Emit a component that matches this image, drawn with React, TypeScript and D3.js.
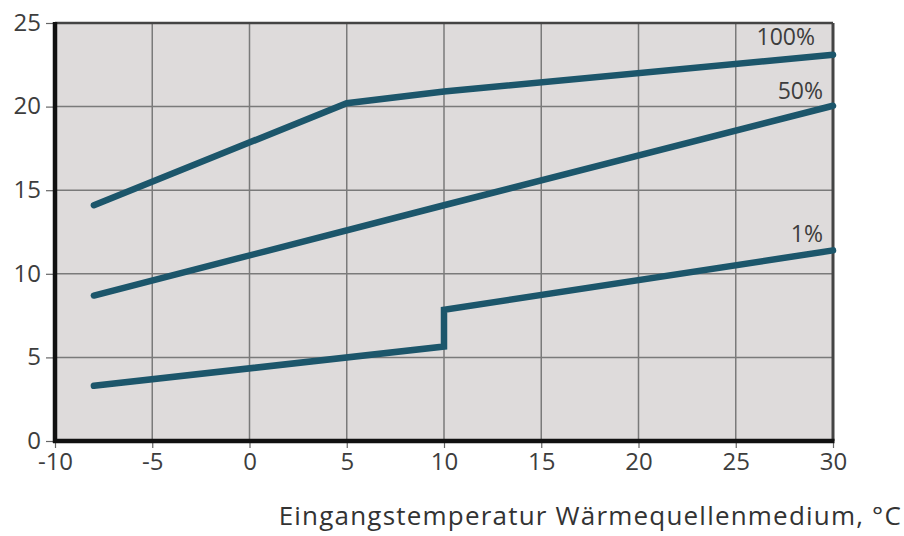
import React, { useEffect, useRef } from 'react';
import * as d3 from 'd3';

// Eingangstemperatur (°C) and values
const temp100 = [-8, 5, 10, 30];
const val100 = [14.1, 20.2, 20.9, 23.1];
const temp50 = [-8, 10, 30];
const val50 = [8.7, 14.1, 20.05];
const temp1 = [-8, 10, 10, 30];
const val1 = [3.3, 5.65, 7.85, 11.4];
const seriesNames = ['100%', '50%', '1%'];
const xTicks = [-10, -5, 0, 5, 10, 15, 20, 25, 30];
const yTicks = [0, 5, 10, 15, 20, 25];
const xLabel = 'Eingangstemperatur Wärmequellenmedium, °C';

export default function App() {
  const svgRef = useRef<SVGSVGElement>(null);

  useEffect(() => {
    const svg = d3.select(svgRef.current);
    svg.selectAll('*').remove();

    const width = 904, height = 536;
    const margin = { top: 23, right: 71, bottom: 95, left: 55 };
    const innerW = width - margin.left - margin.right;
    const innerH = height - margin.top - margin.bottom;

    const x = d3.scaleLinear().domain([-10, 30]).range([0, innerW]);
    const y = d3.scaleLinear().domain([0, 25]).range([innerH, 0]);

    const g = svg.append('g').attr('transform', `translate(${margin.left},${margin.top})`);

    g.append('rect')
      .attr('width', innerW).attr('height', innerH)
      .attr('fill', '#dedbdb');

    // grid
    g.selectAll('.vgrid').data(xTicks.slice(1, -1)).enter().append('line')
      .attr('x1', d => x(d)).attr('x2', d => x(d))
      .attr('y1', 0).attr('y2', innerH)
      .attr('stroke', '#7a7a7a').attr('stroke-width', 1.5);
    g.selectAll('.hgrid').data(yTicks.slice(1, -1)).enter().append('line')
      .attr('x1', 0).attr('x2', innerW)
      .attr('y1', d => y(d)).attr('y2', d => y(d))
      .attr('stroke', '#7a7a7a').attr('stroke-width', 1.5);

    // frame: top/right thin, left/bottom heavy
    g.append('line').attr('x1', 0).attr('x2', innerW).attr('y1', 0).attr('y2', 0)
      .attr('stroke', '#444').attr('stroke-width', 2.5);
    g.append('line').attr('x1', innerW).attr('x2', innerW).attr('y1', 0).attr('y2', innerH)
      .attr('stroke', '#444').attr('stroke-width', 3);

    const font = '"Open Sans", "DejaVu Sans", sans-serif';
    const fmt = (d: d3.NumberValue) => String(d);

    const xAxis = g.append('g').attr('transform', `translate(0,${innerH})`)
      .call(d3.axisBottom(x).tickValues(xTicks).tickSize(7).tickPadding(5).tickFormat(fmt));
    xAxis.select('.domain').remove();
    xAxis.selectAll('line').attr('stroke', '#666').attr('stroke-width', 1.2);
    xAxis.selectAll('text').attr('font-size', 24).attr('font-family', font).attr('fill', '#3d3d3d');

    const yAxis = g.append('g')
      .call(d3.axisLeft(y).tickValues(yTicks).tickSize(9).tickPadding(5).tickFormat(fmt));
    yAxis.select('.domain').remove();
    yAxis.selectAll('line').attr('stroke', '#666').attr('stroke-width', 1.2);
    yAxis.selectAll('text').attr('font-size', 24).attr('font-family', font).attr('fill', '#3d3d3d')
      .attr('dy', '0.3em');

    g.append('line').attr('x1', 0).attr('x2', 0).attr('y1', -1).attr('y2', innerH + 2)
      .attr('stroke', '#111').attr('stroke-width', 4.5);
    g.append('line').attr('x1', -2).attr('x2', innerW + 1.5).attr('y1', innerH).attr('y2', innerH)
      .attr('stroke', '#111').attr('stroke-width', 4.5);

    const line = d3.line<[number, number]>()
      .x(d => x(d[0])).y(d => y(d[1]));

    const series: [number, number][][] = [
      temp100.map((t, i) => [t, val100[i]]),
      temp50.map((t, i) => [t, val50[i]]),
      temp1.map((t, i) => [t, val1[i]]),
    ];

    g.selectAll('.series').data(series).enter().append('path')
      .attr('d', d => line(d))
      .attr('fill', 'none')
      .attr('stroke', '#1c566b')
      .attr('stroke-width', 6.5)
      .attr('stroke-linecap', 'round')
      .attr('stroke-linejoin', 'miter');

    // series labels near the right end
    const labelDx = [-18, -10, -10];
    const labelDy = [-10, -7, -8];
    series.forEach((s, i) => {
      const last = s[s.length - 1];
      g.append('text')
        .attr('x', x(last[0]) + labelDx[i])
        .attr('y', y(last[1]) + labelDy[i])
        .attr('text-anchor', 'end')
        .attr('font-size', 23)
        .attr('font-family', font)
        .attr('fill', '#3d3d3d')
        .text(seriesNames[i]);
    });

    svg.append('text')
      .attr('x', width - 2)
      .attr('y', 525)
      .attr('text-anchor', 'end')
      .attr('font-size', 26)
      .attr('letter-spacing', 1.2)
      .attr('font-family', font)
      .attr('fill', '#333')
      .text(xLabel);
  }, []);

  return (
    <svg ref={svgRef} width={904} height={536}
      style={{ position: 'absolute', left: 0, top: 0, background: '#fff' }} />
  );
}
